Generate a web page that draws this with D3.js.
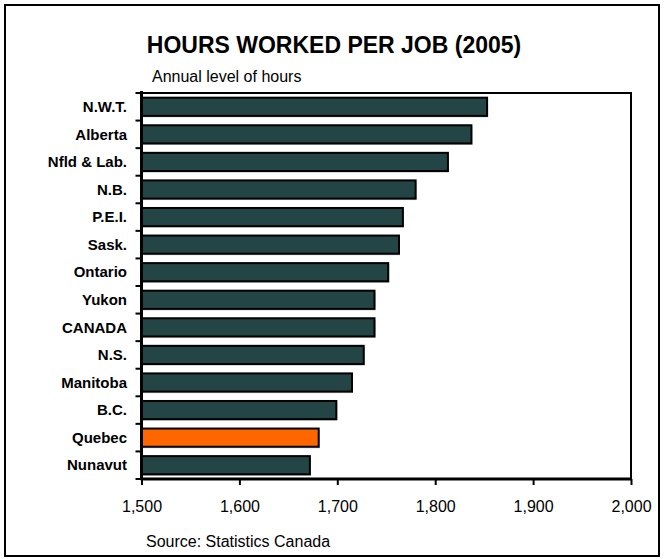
<!DOCTYPE html>
<html><head><meta charset="utf-8">
<script src="https://cdn.jsdelivr.net/npm/d3@7"></script>
<style>body{margin:0;background:#fff}svg{display:block}</style>
</head><body>
<script>
const categories = ["N.W.T.","Alberta","Nfld & Lab.","N.B.","P.E.I.","Sask.","Ontario","Yukon","CANADA","N.S.","Manitoba","B.C.","Quebec","Nunavut"];
const hours = [1853,1837,1813,1780,1767,1763,1752,1738,1738,1727,1715,1699,1681,1672];
const highlight = ["Quebec"];
const xTicks = [1500,1600,1700,1800,1900,2000];
const titleText = "HOURS WORKED PER JOB (2005)";
const subtitleText = "Annual level of hours";
const sourceText = "Source: Statistics Canada";

const W = 665, H = 559;
const FONT = "Liberation Sans, Arial, sans-serif";
const m = {left:141.5, right:631, top:93, bottom:479};
const svg = d3.select("body").append("svg").attr("width",W).attr("height",H);
svg.append("rect").attr("width",W).attr("height",H).attr("fill","#fff");
svg.append("rect").attr("x",5).attr("y",5).attr("width",654).attr("height",551)
  .attr("fill","none").attr("stroke","#000").attr("stroke-width",2);

const x = d3.scaleLinear().domain([1500,2000]).range([m.left,m.right]);
const y = d3.scaleBand().domain(categories).range([m.top,m.bottom]).paddingInner(0.34).paddingOuter(0.17);
const yEdge = d3.scaleLinear().domain([0,categories.length]).range([m.top,m.bottom]);

svg.append("text").attr("x",334).attr("y",53).attr("text-anchor","middle")
  .attr("font-family",FONT).attr("font-weight","bold").attr("font-size",23).text(titleText);
svg.append("text").attr("x",152).attr("y",82)
  .attr("font-family",FONT).attr("font-size",16).text(subtitleText);
svg.append("text").attr("x",146).attr("y",547)
  .attr("font-family",FONT).attr("font-size",16).text(sourceText);

// frame top/right
svg.append("path").attr("d",`M${m.left},${m.top}H${m.right}V${m.bottom}`).attr("fill","none").attr("stroke","#000").attr("stroke-width",2);

// shadows
svg.append("g").selectAll("rect").data(categories).join("rect")
  .attr("x",x(1500)+1).attr("y",d=>y(d)+1.5)
  .attr("width",(d,i)=>x(hours[i])-x(1500)).attr("height",y.bandwidth())
  .attr("fill","#999").attr("opacity",0.6);
svg.append("g").selectAll("rect").data(categories).join("rect")
  .attr("x",x(1500)).attr("y",d=>y(d))
  .attr("width",(d,i)=>x(hours[i])-x(1500)).attr("height",y.bandwidth())
  .attr("fill",d=>highlight.includes(d)?"#FF6600":"#234545")
  .attr("stroke","#000").attr("stroke-width",2);

// y axis
const yAxisG = svg.append("g");
yAxisG.append("line").attr("x1",m.left).attr("x2",m.left).attr("y1",m.top-2).attr("y2",m.bottom+1).attr("stroke","#000").attr("stroke-width",3);
yAxisG.selectAll("line.t").data(d3.range(categories.length+1)).join("line").attr("class","t")
  .attr("x1",m.left-6).attr("x2",m.left).attr("y1",d=>yEdge(d)).attr("y2",d=>yEdge(d)).attr("stroke","#000").attr("stroke-width",2);
yAxisG.selectAll("text").data(categories).join("text")
  .attr("x",127).attr("y",d=>y(d)+y.bandwidth()/2).attr("dy","0.35em").attr("text-anchor","end")
  .attr("font-family",FONT).attr("font-weight","bold").attr("font-size",15).text(d=>d);

// x axis
const xAxis = d3.axisBottom(x).tickValues(xTicks).tickFormat(d3.format(",")).tickSize(6).tickPadding(16);
const xg = svg.append("g").attr("transform",`translate(0,${m.bottom})`).call(xAxis);
xg.select(".domain").attr("stroke-width",3).attr("d",`M${m.left-1},0H${m.right+1}`);
xg.selectAll(".tick line").attr("stroke-width",2);
xg.selectAll("text").attr("font-family",FONT).attr("font-size",16).attr("fill","#000");
</script>
</body></html>
